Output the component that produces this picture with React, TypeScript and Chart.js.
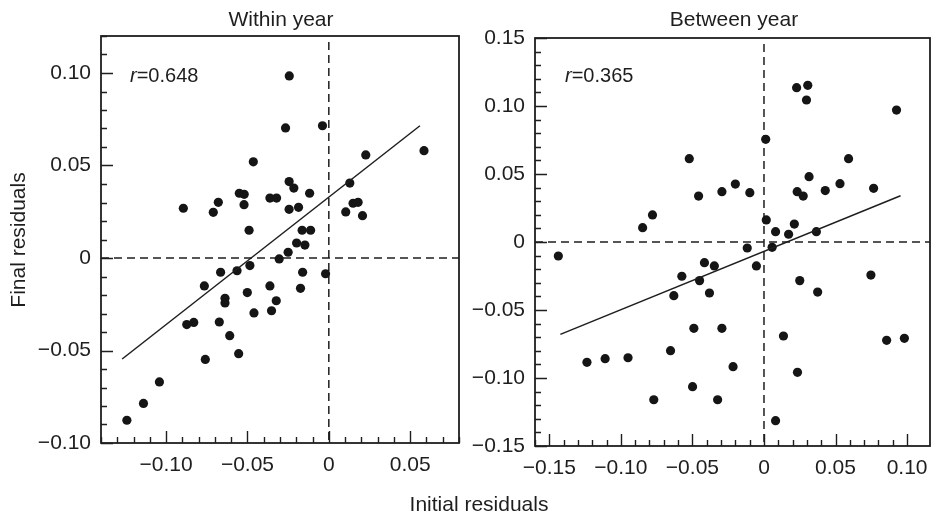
import React, { useEffect, useRef } from 'react';
import { Chart, registerables } from 'chart.js';
Chart.register(...registerables);

// Within year panel
const withinX = [-0.0464,-0.055,-0.052,-0.0521,-0.0679,-0.071,-0.0894,-0.0362,-0.0321,-0.049,
  -0.0243,-0.0266,-0.0039,0.0227,0.0585,-0.0244,-0.0215,-0.0118,-0.0244,-0.0186,
  0.0129,0.0104,0.0149,0.018,0.0207,-0.0164,-0.0112,-0.0305,-0.0485,-0.0564,
  -0.0665,-0.0765,-0.0501,-0.0362,-0.0323,-0.0352,-0.0638,-0.0638,-0.046,-0.0873,
  -0.083,-0.0673,-0.0609,-0.0759,-0.0554,-0.1041,-0.1139,-0.1241,-0.0198,-0.0147,
  -0.025,-0.0161,-0.002,-0.0174];
const withinY = [0.052,0.035,0.0344,0.0288,0.0301,0.0247,0.0269,0.0324,0.0324,0.015,
  0.0984,0.0703,0.0715,0.0557,0.058,0.0413,0.0378,0.035,0.0263,0.0274,
  0.0405,0.0249,0.0296,0.0301,0.0229,0.015,0.015,-0.0005,-0.0041,-0.0069,
  -0.0077,-0.0151,-0.0187,-0.0151,-0.0231,-0.0285,-0.0218,-0.0243,-0.0297,-0.036,
  -0.0348,-0.0346,-0.042,-0.0548,-0.0517,-0.067,-0.0786,-0.0877,0.0081,0.007,
  0.0031,-0.0077,-0.0085,-0.0164];
const withinFitX = [-0.127, 0.056];
const withinFitY = [-0.0546, 0.0715];

// Between year panel
const betweenX = [-0.0522,-0.0457,-0.0294,-0.0779,-0.0848,
  0.0228,0.0306,0.0297,0.0926,0.0012,0.0591,0.0315,-0.02,-0.0099,0.0232,0.0274,0.0428,0.0531,0.0766,0.0016,0.0081,0.0172,0.0212,0.0366,
  -0.1437,-0.0416,-0.0347,-0.0574,-0.045,-0.0381,-0.063,-0.049,-0.0294,-0.0653,-0.1237,-0.111,-0.095,-0.0499,-0.077,-0.0324,
  -0.0117,0.0057,-0.0053,0.025,0.0375,0.0747,0.0136,0.0857,0.0981,-0.0216,0.0234,0.0081];
const betweenY = [0.0613,0.0338,0.037,0.0199,0.0105,
  0.1135,0.1152,0.1044,0.097,0.0755,0.0613,0.048,0.0426,0.0363,0.037,0.0338,0.0378,0.0429,0.0395,0.0162,0.0076,0.0057,0.0132,0.0076,
  -0.0103,-0.0152,-0.0176,-0.0252,-0.0284,-0.0375,-0.0395,-0.0635,-0.0635,-0.0799,-0.0885,-0.0858,-0.0851,-0.1064,-0.116,-0.116,
  -0.0044,-0.0039,-0.0176,-0.0284,-0.0368,-0.0243,-0.0691,-0.0723,-0.0708,-0.0917,-0.0958,-0.1314];
const betweenFitX = [-0.1423, 0.0954];
const betweenFitY = [-0.0679, 0.034];

const titles = ['Within year', 'Between year'];
const rValues = ['0.648', '0.365'];
const yAxisTitle = 'Final residuals';
const xAxisTitle = 'Initial residuals';

const FONT = '"Liberation Sans", Arial, Helvetica, sans-serif';
const INK = '#1e1e1e';

const fmt = (v: number) => {
  const k = Math.round(v * 100);
  if (Math.abs(v * 100 - k) > 1e-6) return '';
  if (k % 5 !== 0) return '';
  if (k === 0) return '0';
  return (k < 0 ? '\u2212' : '') + Math.abs(k / 100).toFixed(2);
};

type Panel = {
  xs: number[]; ys: number[]; fx: number[]; fy: number[];
  xmin: number; xmax: number; ymin: number; ymax: number;
  padTop: number; padRight: number; yWidth: number; xHeight: number;
  title: string; titleX: number; r: string; rX: number;
  yTitle?: boolean; xTitle?: boolean;
};

const makeDeco = (p: Panel) => ({
  id: 'deco',
  beforeDatasetsDraw(chart: any) {
    const { ctx, chartArea: a, scales } = chart;
    const x0 = scales.x.getPixelForValue(0);
    const y0 = scales.y.getPixelForValue(0);
    ctx.save();
    ctx.strokeStyle = INK;
    ctx.lineWidth = 1.5;
    ctx.setLineDash([8, 5]);
    ctx.beginPath();
    ctx.moveTo(a.left, y0); ctx.lineTo(a.right, y0);
    ctx.moveTo(x0, a.top + 6); ctx.lineTo(x0, a.bottom);
    ctx.stroke();
    ctx.restore();
  },
  afterDraw(chart: any) {
    const { ctx, chartArea: a, scales } = chart;
    ctx.save();
    ctx.strokeStyle = INK;
    ctx.lineWidth = 1.4;
    ctx.beginPath();
    for (const t of scales.x.ticks) {
      const v = t.value; const k = Math.round(v * 100);
      if (Math.abs(v * 100 - k) > 1e-6) continue;
      const len = k % 5 === 0 ? 12 : 6;
      const px = Math.round(scales.x.getPixelForValue(v)) + 0.5;
      ctx.moveTo(px, a.bottom); ctx.lineTo(px, a.bottom - len);
    }
    for (const t of scales.y.ticks) {
      const v = t.value; const k = Math.round(v * 100);
      if (Math.abs(v * 100 - k) > 1e-6) continue;
      const len = k % 5 === 0 ? 12 : 6;
      const py = Math.round(scales.y.getPixelForValue(v)) + 0.5;
      ctx.moveTo(a.left, py); ctx.lineTo(a.left + len, py);
    }
    ctx.stroke();
    ctx.lineWidth = 1.8;
    ctx.strokeRect(a.left, a.top, a.right - a.left, a.bottom - a.top);

    ctx.fillStyle = INK;
    ctx.textBaseline = 'alphabetic';
    ctx.textAlign = 'center';
    ctx.font = `21px ${FONT}`;
    ctx.fillText(p.title, p.titleX, 26);

    ctx.textAlign = 'left';
    ctx.font = `italic 20px ${FONT}`;
    ctx.fillText('r', p.rX, 82);
    const w = ctx.measureText('r').width;
    ctx.font = `20px ${FONT}`;
    ctx.fillText('=' + p.r, p.rX + w, 82);

    ctx.font = `21px ${FONT}`;
    if (p.yTitle) {
      ctx.save();
      ctx.translate(25, 240);
      ctx.rotate(-Math.PI / 2);
      ctx.textAlign = 'center';
      ctx.fillText(yAxisTitle, 0, 0);
      ctx.restore();
    }
    if (p.xTitle) {
      ctx.textAlign = 'center';
      ctx.fillText(xAxisTitle, 479, 511);
    }
    ctx.restore();
  },
});

const W = 940, H = 516;

function PanelChart({ p }: { p: Panel }) {
  const ref = useRef<HTMLCanvasElement | null>(null);
  useEffect(() => {
    if (!ref.current) return;
    const tickFont = { family: FONT, size: 21 };
    const chart = new Chart(ref.current, {
      type: 'scatter',
      data: {
        datasets: [
          {
            data: p.fx.map((x, i) => ({ x, y: p.fy[i] })),
            showLine: true,
            pointRadius: 0,
            borderColor: INK,
            borderWidth: 1.5,
            backgroundColor: INK,
          },
          {
            data: p.xs.map((x, i) => ({ x, y: p.ys[i] })),
            pointRadius: 4.6,
            pointBackgroundColor: '#151515',
            pointBorderWidth: 0,
            backgroundColor: '#151515',
          },
        ],
      },
      options: {
        responsive: false,
        animation: false,
        events: [],
        devicePixelRatio: 1,
        layout: { padding: { top: p.padTop, right: p.padRight, left: 0, bottom: 0 } },
        plugins: { legend: { display: false }, tooltip: { enabled: false }, title: { display: false } },
        scales: {
          x: {
            type: 'linear', min: p.xmin, max: p.xmax,
            grid: { display: false, drawTicks: false },
            border: { display: false },
            ticks: { stepSize: 0.01, autoSkip: false, maxRotation: 0, padding: 10, font: tickFont, color: INK, callback: (v: any) => fmt(Number(v)) },
            afterFit: (s: any) => { s.height = p.xHeight; },
          },
          y: {
            type: 'linear', min: p.ymin, max: p.ymax,
            grid: { display: false, drawTicks: false },
            border: { display: false },
            ticks: { stepSize: 0.01, autoSkip: false, padding: 10, font: tickFont, color: INK, callback: (v: any) => fmt(Number(v)) },
            afterFit: (s: any) => { s.width = p.yWidth; },
          },
        },
      },
      plugins: [makeDeco(p)],
    } as any);
    return () => chart.destroy();
  }, [p]);
  return (
    <canvas ref={ref} width={W} height={H}
      style={{ position: 'absolute', left: 0, top: 0, width: W, height: H }} />
  );
}

const panelA: Panel = {
  xs: withinX, ys: withinY, fx: withinFitX, fy: withinFitY,
  xmin: -0.14, xmax: 0.08, ymin: -0.10, ymax: 0.12,
  padTop: 36, padRight: W - 459, yWidth: 101, xHeight: H - 443,
  title: titles[0], titleX: 281, r: rValues[0], rX: 130, yTitle: true,
};
const panelB: Panel = {
  xs: betweenX, ys: betweenY, fx: betweenFitX, fy: betweenFitY,
  xmin: -0.16, xmax: 0.116, ymin: -0.15, ymax: 0.15,
  padTop: 38, padRight: W - 935, yWidth: 535, xHeight: H - 446,
  title: titles[1], titleX: 734, r: rValues[1], rX: 565, xTitle: true,
};

export default function App() {
  return (
    <div style={{ position: 'fixed', left: 0, top: 0, width: 935, height: 516, overflow: 'hidden', background: '#fff' }}>
      <PanelChart p={panelB} />
      <PanelChart p={panelA} />
    </div>
  );
}
